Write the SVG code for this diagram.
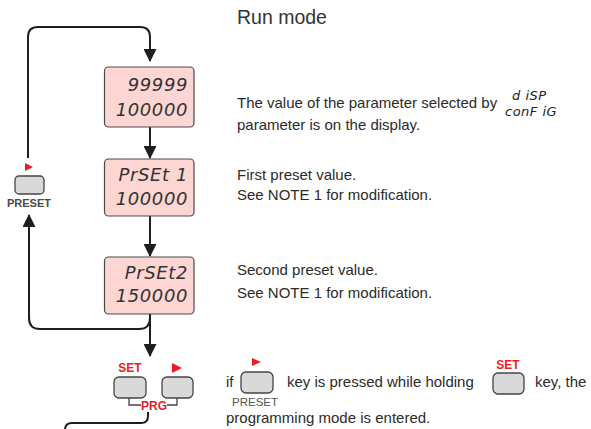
<svg xmlns="http://www.w3.org/2000/svg" width="591" height="429" viewBox="0 0 591 429">
  <style>
    .txt { font-family: "Liberation Sans", Arial, sans-serif; font-size: 15px; fill: #2b2b2b; }
    .title { font-family: "Liberation Sans", Arial, sans-serif; font-size: 19.5px; fill: #333; }
    .disp { fill: #fdd5d2; stroke: #4a4a4a; stroke-width: 1.2; }
    .seg { font-family: "DejaVu Sans", sans-serif; font-weight: 200; font-style: italic; font-size: 18px; letter-spacing: 0.6px; fill: #333; text-anchor: end; }
    .segs { font-family: "DejaVu Sans", sans-serif; font-weight: 200; font-style: italic; font-size: 13px; letter-spacing: 0.5px; fill: #222; }
    .key { fill: #d9d9d9; stroke: #444; stroke-width: 1.3; }
    .red { font-family: "Liberation Sans", Arial, sans-serif; font-weight: bold; font-size: 12px; fill: #ec1c24; text-anchor: middle; }
    .lbl { font-family: "Liberation Sans", Arial, sans-serif; font-weight: bold; font-size: 11px; fill: #4a4a4a; text-anchor: middle; }
    .lblr { font-family: "Liberation Sans", Arial, sans-serif; font-size: 11.5px; fill: #555; text-anchor: middle; }
    .tri { fill: #ec1c24; }
    .wire { fill: none; stroke: #1e1e1e; stroke-width: 2; }
    .thin { fill: none; stroke: #444; stroke-width: 1.3; }
  </style>
  <defs>
    <marker id="arrow" viewBox="0 0 13 13" refX="12" refY="6.5" markerWidth="13" markerHeight="13" markerUnits="userSpaceOnUse" orient="auto">
      <path d="M0,0 L13,6.5 L0,13 z" fill="#1e1e1e"/>
    </marker>
  </defs>

  <text class="title" x="237" y="24">Run mode</text>

  <!-- connectors -->
  <g id="connectors">
    <path class="wire" d="M28,158 V37 Q28,27 38,27 H140 Q150,27 150,37 V61" marker-end="url(#arrow)"/>
    <path class="wire" d="M150,127 V158" marker-end="url(#arrow)"/>
    <path class="wire" d="M150,216 V256" marker-end="url(#arrow)"/>
    <path class="wire" d="M150,314 V356" marker-end="url(#arrow)"/>
    <path class="wire" d="M150,318 Q150,329 139,329 H40 Q29,329 29,318 V215" marker-end="url(#arrow)"/>
    <path class="wire" d="M148,412 V416 Q148,423 141,423 H72 Q65,423 65,430"/>
  </g>

  <!-- display: run value -->
  <g id="display-run">
    <rect class="disp" x="104.5" y="67" width="89.5" height="60" rx="4"/>
    <text class="seg" x="188" y="91">99999</text>
    <text class="seg" x="188" y="116">100000</text>
  </g>

  <!-- display: preset 1 -->
  <g id="display-preset1">
    <rect class="disp" x="104.5" y="159" width="89.5" height="57" rx="4"/>
    <text class="seg" x="188" y="181">PrSEt 1</text>
    <text class="seg" x="188" y="205">100000</text>
  </g>

  <!-- display: preset 2 -->
  <g id="display-preset2">
    <rect class="disp" x="104.5" y="257" width="89.5" height="57" rx="4"/>
    <text class="seg" x="188" y="279">PrSEt2</text>
    <text class="seg" x="188" y="302">150000</text>
  </g>

  <!-- PRESET key on the loop -->
  <g id="key-preset">
    <path class="tri" d="M25,163 L33,167 L25,171 z"/>
    <rect class="key" x="15" y="176" width="29" height="18" rx="4"/>
    <text class="lbl" x="29" y="207">PRESET</text>
  </g>

  <!-- SET and arrow keys -->
  <g id="keys-prg">
    <text class="red" x="130" y="372">SET</text>
    <path class="tri" d="M172,363 L182,368 L172,373 z"/>
    <rect class="key" x="114" y="377" width="32" height="21" rx="5"/>
    <rect class="key" x="162" y="377" width="31" height="21" rx="5"/>
    <path class="thin" d="M129,398 V405 H141 M167,405 H177 V398"/>
    <text class="red" x="154" y="409.5">PRG</text>
  </g>

  <!-- descriptions -->
  <g id="desc-run">
    <text class="txt" x="237" y="108">The value of the parameter selected by</text>
    <text class="txt" x="237" y="130">parameter is on the display.</text>
    <text class="segs" x="512" y="100">d iSP</text>
    <text class="segs" x="505" y="116">conF iG</text>
  </g>
  <g id="desc-preset1">
    <text class="txt" x="237" y="180">First preset value.</text>
    <text class="txt" x="237" y="200">See  NOTE 1 for modification.</text>
  </g>
  <g id="desc-preset2">
    <text class="txt" x="237" y="275">Second preset value.</text>
    <text class="txt" x="237" y="298">See  NOTE 1 for modification.</text>
  </g>
  <g id="desc-prg">
    <text class="txt" x="226" y="387">if</text>
    <path class="tri" d="M252,358 L261,362 L252,366 z"/>
    <rect class="key" x="241" y="372" width="32" height="21" rx="5"/>
    <text class="lblr" x="255" y="406">PRESET</text>
    <text class="txt" x="287" y="387">key is pressed while holding</text>
    <text class="red" x="508" y="369">SET</text>
    <rect class="key" x="493" y="373" width="31" height="21" rx="5"/>
    <text class="txt" x="535" y="387">key, the</text>
    <text class="txt" x="226" y="423">programming mode is entered.</text>
  </g>
</svg>
